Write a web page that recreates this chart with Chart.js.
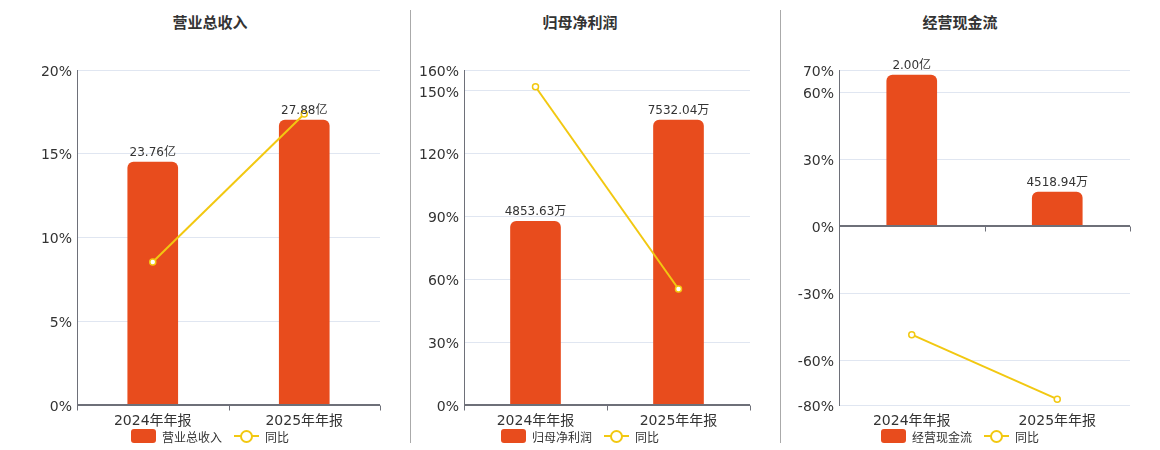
<!DOCTYPE html>
<html>
<head>
<meta charset="utf-8">
<script src="https://cdn.jsdelivr.net/npm/chart.js@4.4.1/dist/chart.umd.min.js"></script>
<style>
body{margin:0;width:1160px;height:450px;position:relative;background:#fff;overflow:hidden;font-family:"DejaVu Sans","Noto Sans CJK SC",sans-serif}
canvas{position:absolute;top:0}
.title{position:absolute;top:11px;width:200px;margin-left:-100px;text-align:center;font-size:15px;font-weight:bold;color:#333;font-family:"Noto Sans CJK SC",sans-serif}
.sep{position:absolute;top:10px;height:433px;width:1px;background:#aaa}
.legend{position:absolute;top:428px;width:260px;margin-left:-130px;height:16px;display:flex;justify-content:center;align-items:center;font-size:12px;color:#333;font-family:"Noto Sans CJK SC",sans-serif}
.legend .bar{width:25px;height:14px;border-radius:3px;background:#E84C1D;margin-right:6px}
.legend .ln{position:relative;width:25px;height:14px;margin-left:12px;margin-right:6px}
.legend .ln:before{content:"";position:absolute;left:0;right:0;top:6px;height:2px;background:#F2C811}
.legend .ln:after{content:"";position:absolute;left:6px;top:1px;width:9px;height:9px;border:2px solid #F2C811;border-radius:50%;background:#fff}
</style>
</head>
<body>
<div class="title" style="left:210px">营业总收入</div>
<div class="title" style="left:580px">归母净利润</div>
<div class="title" style="left:960px">经营现金流</div>
<div class="sep" style="left:410px"></div>
<div class="sep" style="left:780px"></div>
<canvas id="c1" width="400" height="450" style="left:0px"></canvas>
<canvas id="c2" width="360" height="450" style="left:410px"></canvas>
<canvas id="c3" width="369" height="450" style="left:781px"></canvas>
<div class="legend" style="left:210px"><span class="bar"></span>营业总收入<span class="ln"></span>同比</div>
<div class="legend" style="left:580px"><span class="bar"></span>归母净利润<span class="ln"></span>同比</div>
<div class="legend" style="left:960px"><span class="bar"></span>经营现金流<span class="ln"></span>同比</div>
<script>
// 数据（金额单位：万元，同比单位：%）
const categories = ['2024年年报', '2025年年报'];
const revenue = [237600, 278800];
const revenueYoy = [8.54, 17.37];
const netProfit = [4853.63, 7532.04];
const netProfitYoy = [152.0, 55.4];
const cashFlow = [20000, 4518.94];
const cashFlowYoy = [-48.5, -77.4];
const revenueTicks = [0, 5, 10, 15, 20];
const profitTicks = [0, 30, 60, 90, 120, 150, 160];
const cashTicks = [-80, -60, -30, 0, 30, 60, 70];

const BAR_COLOR = '#E84C1D';
const LINE_COLOR = '#F2C811';
const FONT = '"DejaVu Sans","Noto Sans CJK SC",sans-serif';

Chart.defaults.font.family = FONT;
Chart.defaults.color = '#333';

function fmtMoney(v) {
    if (Math.abs(v) >= 10000) return (v / 10000).toFixed(2) + '亿';
    return v.toFixed(2) + '万';
}

// 柱子上方的数值
const barLabels = {
    id: 'barLabels',
    afterDatasetsDraw(chart) {
        const ctx = chart.ctx;
        const meta = chart.getDatasetMeta(0);
        ctx.save();
        ctx.font = '12px ' + FONT;
        ctx.fillStyle = '#333';
        ctx.textAlign = 'center';
        ctx.textBaseline = 'bottom';
        meta.data.forEach(function(el, i) {
            ctx.fillText(fmtMoney(chart.data.datasets[0].data[i]), el.x, el.y - 3);
        });
        ctx.restore();
    }
};

// x轴线画在0%的位置
const zeroAxis = {
    id: 'zeroAxis',
    beforeDatasetsDraw(chart) {
        const ctx = chart.ctx;
        const x = chart.scales.x;
        const y0 = Math.round(chart.scales.y.getPixelForValue(0)) + 0.5;
        const n = chart.data.labels.length;
        ctx.save();
        ctx.strokeStyle = '#6E7079';
        ctx.lineWidth = 1;
        ctx.beginPath();
        for (let i = 0; i <= n; i++) {
            const px = Math.round(x.left + i * x.width / n) + 0.5;
            ctx.moveTo(px, y0);
            ctx.lineTo(px, y0 + 5);
        }
        ctx.stroke();
        ctx.restore();
    },
    afterDatasetsDraw(chart) {
        const ctx = chart.ctx;
        const a = chart.chartArea;
        const y0 = Math.round(chart.scales.y.getPixelForValue(0));
        ctx.save();
        ctx.strokeStyle = '#6E7079';
        ctx.lineWidth = 2;
        ctx.beginPath();
        ctx.moveTo(a.left, y0);
        ctx.lineTo(a.right, y0);
        ctx.stroke();
        ctx.restore();
    }
};

function makeChart(id, bars, yoy, ticks, barMin, barMax, axisWidth) {
    return new Chart(document.getElementById(id), {
        type: 'bar',
        data: {
            labels: categories,
            datasets: [{
                type: 'bar',
                data: bars,
                yAxisID: 'yb',
                backgroundColor: BAR_COLOR,
                barThickness: 50,
                borderRadius: {topLeft: 6, topRight: 6},
                borderSkipped: 'start',
                order: 2
            }, {
                type: 'line',
                data: yoy,
                yAxisID: 'y',
                borderColor: LINE_COLOR,
                borderWidth: 2,
                pointRadius: 3,
                pointBorderWidth: 1.5,
                pointBackgroundColor: '#fff',
                pointBorderColor: LINE_COLOR,
                order: 1
            }]
        },
        options: {
            responsive: false,
            animation: false,
            layout: {padding: {top: 70, right: 20, bottom: 15, left: 0}},
            plugins: {legend: {display: false}, tooltip: {enabled: false}},
            scales: {
                x: {
                    offset: true,
                    grid: {display: false, drawTicks: false},
                    border: {display: false},
                    ticks: {font: {size: 14}, color: '#333', padding: 8},
                    afterFit: function(s) { s.height = 30; }
                },
                y: {
                    position: 'left',
                    min: ticks[0],
                    max: ticks[ticks.length - 1],
                    afterBuildTicks: function(s) { s.ticks = ticks.map(v => ({value: v})); },
                    grid: {color: '#E0E6F1', drawTicks: false},
                    border: {display: true, color: '#6E7079', width: 1},
                    ticks: {font: {size: 14}, color: '#333', padding: 5, labelOffset: 2, callback: v => v + '%'},
                    afterFit: function(s) { s.width = axisWidth; }
                },
                yb: {
                    display: false,
                    min: barMin,
                    max: barMax
                }
            }
        },
        plugins: [zeroAxis, barLabels]
    });
}

makeChart('c1', revenue, revenueYoy, revenueTicks, 0, 327700, 77);
makeChart('c2', netProfit, netProfitYoy, profitTicks, 0, 8853, 54);
makeChart('c3', cashFlow, cashFlowYoy, cashTicks, -23614, 20662, 58);
</script>
</body>
</html>
